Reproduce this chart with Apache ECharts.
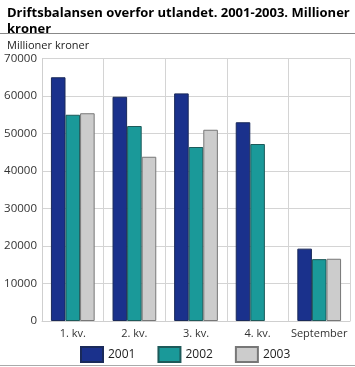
<!DOCTYPE html>
<html><head><meta charset="utf-8">
<script src="https://cdn.jsdelivr.net/npm/echarts@6/dist/echarts.min.js"></script>
<style>html,body{margin:0;padding:0;background:#fff}#c{width:355px;height:367px}</style>
</head><body><div id="c"></div>
<script>
const categories = ["1. kv.", "2. kv.", "3. kv.", "4. kv.", "September"];
const seriesNames = ["2001", "2002", "2003"];
const values2001 = [65000, 59800, 60700, 53000, 19300];
const values2002 = [55000, 52000, 46400, 47200, 16500];
const values2003 = [55400, 43800, 51000, null, 16600];
const yTicks = [0, 10000, 20000, 30000, 40000, 50000, 60000, 70000];

const colors = ["#1a318c", "#1a9999", "#cccccc"];
const borders = ["#1a2a5a", "#1d5a5a", "#777777"];
const font = "Open Sans";
const chart = echarts.init(document.getElementById('c'));
const data = [values2001, values2002, values2003];
chart.setOption({
  animation: false,
  title: [
    {text: "Driftsbalansen overfor utlandet. 2001-2003. Millioner\nkroner", left: 2, top: 0,
     textStyle: {fontFamily: font, fontWeight: 'bold', fontSize: 13, color: '#000', lineHeight: 16}},
    {text: "Millioner kroner", left: 2, top: 35,
     textStyle: {fontFamily: font, fontWeight: 'normal', fontSize: 11, color: '#222'}}
  ],
  graphic: [
    {type: 'line', shape: {x1: 0, y1: 33.5, x2: 355, y2: 33.5}, style: {stroke: '#888', lineWidth: 1}},
    {type: 'line', shape: {x1: 0, y1: 365.5, x2: 355, y2: 365.5}, style: {stroke: '#aaa', lineWidth: 1}}
  ],
  legend: {
    top: 341, left: 75, itemWidth: 22, itemHeight: 15, itemGap: 22,
    icon: 'rect',
    textStyle: {fontFamily: font, fontSize: 12, color: '#222'},
    data: seriesNames
  },
  grid: {left: 42, right: 5, top: 58.5, bottom: 46},
  xAxis: {
    type: 'category', data: categories,
    axisLine: {lineStyle: {color: '#cfcfcf'}},
    axisTick: {show: false},
    axisLabel: {interval: 0, fontFamily: font, fontSize: 11, color: '#333', margin: 7},
    splitLine: {show: true, interval: 0, lineStyle: {color: '#d4d4d4'}}
  },
  yAxis: {
    type: 'value', min: yTicks[0], max: yTicks[yTicks.length - 1], interval: 10000,
    axisLine: {show: true, lineStyle: {color: '#cfcfcf'}},
    axisTick: {show: false},
    axisLabel: {fontFamily: font, fontSize: 11.5, color: '#333', margin: 5, formatter: v => String(v)},
    splitLine: {lineStyle: {color: '#d4d4d4'}}
  },
  series: seriesNames.map((n, i) => ({
    name: n, type: 'bar', data: data[i],
    barGap: '0%', barCategoryGap: '29%',
    itemStyle: {color: colors[i], borderColor: borders[i], borderWidth: 1}
  }))
});
</script></body></html>
